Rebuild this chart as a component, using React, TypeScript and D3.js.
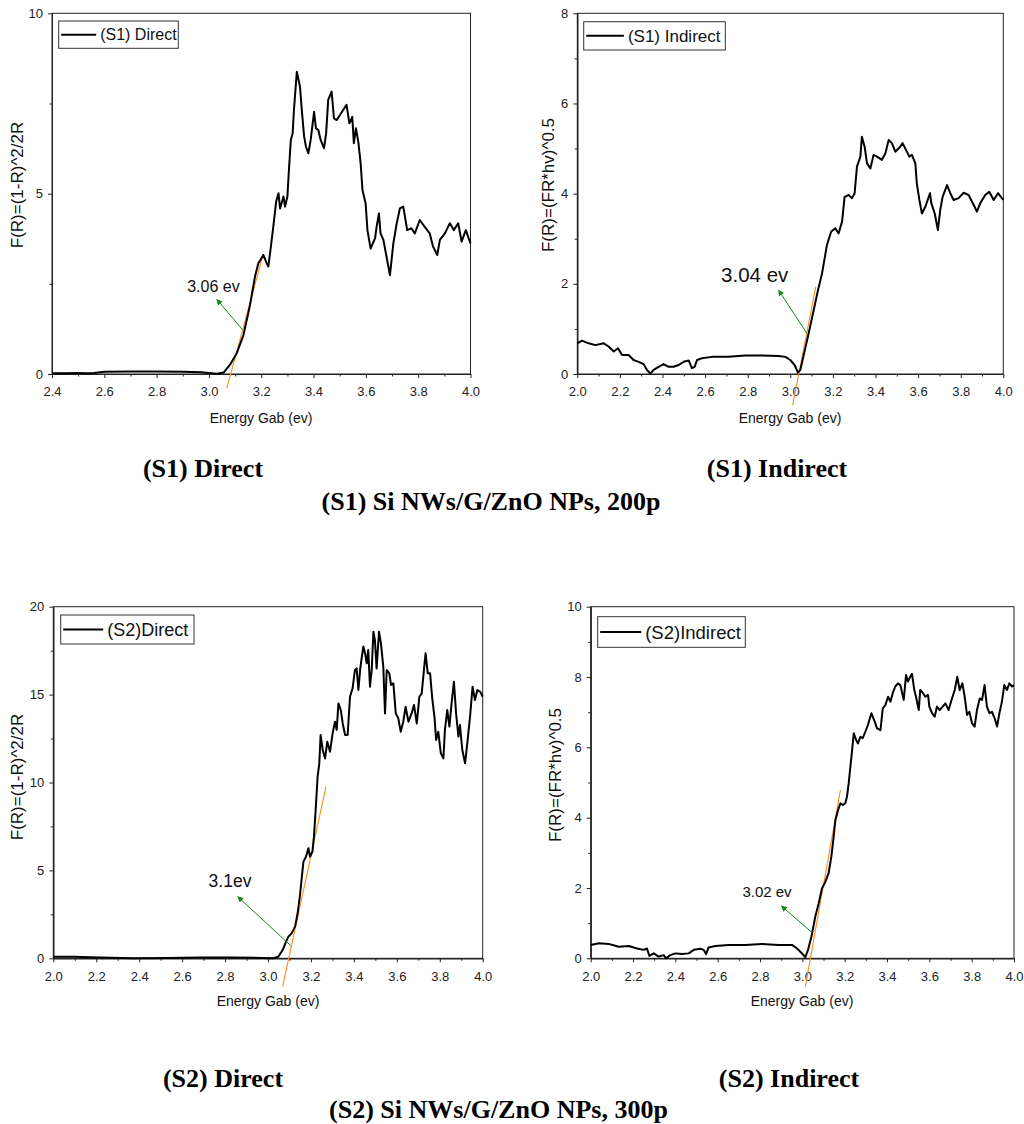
import React, { useEffect, useRef } from "react";
import * as d3 from "d3";

// ---------- DATA ----------
// (S1) Direct : [energy (eV), F(R)]
const s1Direct: [number, number][] = [
  [2.40, 0.02], [2.45, 0.02], [2.50, 0.03], [2.53, 0.02], [2.56, 0.03], [2.60, 0.06], [2.70, 0.07], [2.80, 0.07], [2.90, 0.06], [2.97, 0.05],
  [3.00, 0.03], [3.03, 0.01], [3.056, 0.04], [3.08, 0.25], [3.106, 0.57], [3.132, 1.08], [3.157, 1.91], [3.176, 2.70], [3.189, 3.07], [3.208, 3.30],
  [3.221, 3.07], [3.227, 2.98], [3.236, 3.48], [3.246, 4.08], [3.257, 4.78], [3.266, 5.01], [3.272, 4.59], [3.285, 4.92], [3.291, 4.64], [3.300, 4.92],
  [3.305, 5.56], [3.313, 6.49], [3.320, 6.67], [3.325, 7.32], [3.336, 8.38], [3.348, 7.97], [3.355, 7.32], [3.364, 6.58], [3.371, 6.30], [3.380, 6.12],
  [3.389, 6.49], [3.402, 7.27], [3.409, 6.81], [3.418, 6.77], [3.427, 6.49], [3.440, 6.26], [3.448, 6.67], [3.456, 7.60], [3.469, 7.83], [3.478, 7.09],
  [3.488, 7.04], [3.501, 7.18], [3.513, 7.32], [3.526, 7.46], [3.537, 6.95], [3.548, 7.13], [3.554, 6.40], [3.562, 6.81], [3.571, 6.44], [3.580, 5.84],
  [3.587, 5.10], [3.599, 4.73], [3.606, 3.99], [3.618, 3.48], [3.635, 3.76], [3.641, 4.08], [3.650, 4.45], [3.656, 3.90], [3.667, 3.72], [3.679, 3.25],
  [3.692, 2.74], [3.705, 3.62], [3.718, 4.18], [3.730, 4.59], [3.743, 4.64], [3.758, 3.99], [3.774, 4.04], [3.787, 3.90], [3.806, 4.27], [3.825, 4.08],
  [3.844, 3.90], [3.857, 3.53], [3.873, 3.30], [3.883, 3.72], [3.902, 3.90], [3.921, 4.18], [3.936, 3.99], [3.953, 4.18], [3.966, 3.67], [3.982, 3.99],
  [4.000, 3.62],
];

// (S1) Indirect
const s1Indirect: [number, number][] = [
  [2.000, 0.68], [2.022, 0.74], [2.053, 0.68], [2.085, 0.64], [2.124, 0.68], [2.147, 0.61], [2.171, 0.50], [2.191, 0.57], [2.210, 0.42], [2.241, 0.42],
  [2.264, 0.31], [2.288, 0.27], [2.311, 0.22], [2.327, 0.09], [2.343, 0.01], [2.358, 0.09], [2.382, 0.16], [2.405, 0.22], [2.429, 0.16], [2.452, 0.16],
  [2.476, 0.20], [2.499, 0.27], [2.523, 0.30], [2.538, 0.13], [2.551, 0.16], [2.562, 0.31], [2.585, 0.35], [2.632, 0.38], [2.710, 0.38], [2.789, 0.41],
  [2.867, 0.41], [2.945, 0.40], [2.977, 0.38], [3.000, 0.31], [3.020, 0.20], [3.036, 0.03], [3.047, 0.09], [3.063, 0.42], [3.086, 0.90], [3.110, 1.42],
  [3.130, 1.86], [3.149, 2.23], [3.172, 2.86], [3.192, 3.16], [3.211, 3.23], [3.227, 3.12], [3.243, 3.38], [3.255, 3.93], [3.274, 3.97], [3.290, 3.90],
  [3.302, 4.01], [3.313, 4.60], [3.329, 4.82], [3.336, 5.26], [3.349, 5.04], [3.360, 4.67], [3.376, 4.56], [3.391, 4.86], [3.407, 4.82], [3.430, 4.75],
  [3.446, 4.89], [3.462, 5.19], [3.477, 5.12], [3.493, 4.93], [3.516, 5.04], [3.527, 5.12], [3.543, 4.97], [3.559, 4.82], [3.571, 4.86], [3.587, 4.67],
  [3.594, 4.23], [3.606, 3.86], [3.618, 3.56], [3.634, 3.71], [3.656, 4.01], [3.662, 3.79], [3.678, 3.56], [3.693, 3.19], [3.704, 3.64], [3.715, 3.93],
  [3.736, 4.19], [3.751, 4.01], [3.767, 3.86], [3.790, 3.90], [3.814, 4.02], [3.837, 3.97], [3.861, 3.75], [3.876, 3.60], [3.892, 3.79], [3.915, 3.97],
  [3.934, 4.04], [3.955, 3.86], [3.975, 4.01], [4.000, 3.86],
];

// (S2) Direct
const s2Direct: [number, number][] = [
  [2.000, 0.09], [2.093, 0.09], [2.217, 0.04], [2.373, 0.00], [2.528, 0.02], [2.683, 0.04], [2.839, 0.04], [2.978, 0.02], [3.025, 0.00], [3.048, 0.09],
  [3.068, 0.47], [3.084, 0.95], [3.095, 1.23], [3.110, 1.42], [3.126, 1.80], [3.138, 2.56], [3.149, 3.60], [3.157, 4.55], [3.165, 5.50], [3.177, 5.78],
  [3.188, 6.26], [3.196, 5.78], [3.207, 6.07], [3.214, 6.92], [3.222, 8.44], [3.231, 10.33], [3.239, 11.09], [3.245, 12.70], [3.255, 11.85], [3.266, 11.37],
  [3.276, 12.32], [3.289, 11.75], [3.301, 12.80], [3.312, 13.46], [3.320, 12.99], [3.328, 14.50], [3.339, 14.12], [3.348, 13.36], [3.359, 12.70], [3.371, 12.70],
  [3.382, 14.88], [3.394, 15.36], [3.405, 16.40], [3.413, 16.49], [3.421, 15.26], [3.429, 16.40], [3.436, 17.06], [3.444, 17.73], [3.452, 17.35], [3.460, 16.78],
  [3.467, 17.54], [3.475, 15.45], [3.483, 16.40], [3.491, 18.58], [3.498, 18.10], [3.506, 16.49], [3.517, 18.58], [3.526, 17.91], [3.537, 16.59], [3.545, 13.93],
  [3.553, 16.40], [3.565, 16.21], [3.573, 15.55], [3.584, 15.64], [3.595, 13.93], [3.607, 13.65], [3.618, 12.89], [3.630, 13.46], [3.641, 14.31], [3.654, 13.46],
  [3.669, 13.93], [3.680, 14.41], [3.693, 13.36], [3.705, 14.88], [3.716, 15.07], [3.727, 16.49], [3.734, 17.35], [3.744, 16.21], [3.755, 16.21], [3.765, 14.79],
  [3.776, 13.65], [3.783, 12.42], [3.793, 12.89], [3.805, 11.66], [3.817, 11.37], [3.824, 12.99], [3.835, 14.12], [3.845, 13.18], [3.855, 14.50], [3.866, 15.73],
  [3.876, 13.93], [3.887, 12.61], [3.894, 13.27], [3.905, 11.85], [3.918, 11.09], [3.929, 12.32], [3.941, 13.74], [3.953, 15.45], [3.964, 14.69], [3.975, 15.26],
  [3.988, 15.17], [4.000, 14.88],
];

// (S2) Indirect
const s2Indirect: [number, number][] = [
  [2.000, 0.38], [2.038, 0.43], [2.085, 0.41], [2.132, 0.33], [2.180, 0.35], [2.219, 0.28], [2.250, 0.24], [2.266, 0.28], [2.277, 0.07], [2.298, 0.14],
  [2.321, 0.05], [2.345, 0.09], [2.356, 0.00], [2.376, 0.09], [2.400, 0.14], [2.431, 0.12], [2.463, 0.14], [2.487, 0.24], [2.518, 0.27], [2.534, 0.24],
  [2.545, 0.12], [2.557, 0.31], [2.589, 0.35], [2.652, 0.38], [2.731, 0.38], [2.809, 0.41], [2.888, 0.38], [2.951, 0.38], [2.975, 0.28], [2.995, 0.16],
  [3.014, 0.03], [3.027, 0.24], [3.043, 0.62], [3.061, 1.18], [3.077, 1.56], [3.093, 1.99], [3.109, 2.18], [3.124, 2.42], [3.137, 2.89], [3.148, 3.46],
  [3.156, 3.93], [3.169, 4.22], [3.180, 4.41], [3.191, 4.36], [3.203, 4.41], [3.211, 4.60], [3.219, 4.98], [3.227, 5.45], [3.235, 5.92], [3.243, 6.40],
  [3.254, 6.21], [3.263, 6.11], [3.274, 6.30], [3.285, 6.26], [3.298, 6.45], [3.310, 6.64], [3.326, 6.97], [3.342, 6.73], [3.353, 6.54], [3.369, 6.49],
  [3.380, 7.11], [3.392, 7.20], [3.405, 7.44], [3.416, 7.30], [3.427, 7.54], [3.439, 7.73], [3.452, 7.82], [3.463, 7.77], [3.479, 7.35], [3.490, 8.06],
  [3.499, 7.87], [3.510, 8.01], [3.518, 8.09], [3.529, 7.63], [3.537, 7.44], [3.550, 7.06], [3.557, 7.63], [3.570, 7.54], [3.581, 7.44], [3.594, 7.49],
  [3.600, 7.16], [3.613, 6.97], [3.625, 6.87], [3.636, 7.16], [3.649, 7.06], [3.663, 7.16], [3.676, 7.25], [3.691, 7.06], [3.707, 7.39], [3.720, 7.63],
  [3.732, 8.01], [3.743, 7.63], [3.756, 7.82], [3.767, 7.44], [3.778, 6.92], [3.789, 7.01], [3.802, 6.68], [3.814, 6.59], [3.825, 7.06], [3.838, 7.39],
  [3.849, 7.35], [3.861, 7.77], [3.872, 7.16], [3.884, 6.97], [3.896, 7.01], [3.909, 6.82], [3.920, 6.59], [3.931, 6.97], [3.943, 7.30], [3.954, 7.77],
  [3.967, 7.63], [3.978, 7.82], [3.991, 7.73], [4.000, 7.77],
];

// Tick values
const xTicksS1Direct = [2.4, 2.6, 2.8, 3.0, 3.2, 3.4, 3.6, 3.8, 4.0];
const xTicksWide = [2.0, 2.2, 2.4, 2.6, 2.8, 3.0, 3.2, 3.4, 3.6, 3.8, 4.0];
const yTicksS1Direct = [0, 5, 10];
const yTicksS1Indirect = [0, 2, 4, 6, 8];
const yTicksS2Direct = [0, 5, 10, 15, 20];
const yTicksS2Indirect = [0, 2, 4, 6, 8, 10];

// Tangent (orange) lines: [start, end] in data units
const tangentS1Direct: [number, number][] = [[3.068, -0.40], [3.208, 3.33]];
const tangentS1Indirect: [number, number][] = [[3.011, -0.69], [3.120, 1.94]];
const tangentS2Direct: [number, number][] = [[3.068, -1.61], [3.270, 9.76]];
const tangentS2Indirect: [number, number][] = [[3.014, -0.81], [3.180, 4.79]];

// Green arrows: [tail, head] in data units
const arrowS1Direct: [number, number][] = [[3.129, 1.22], [3.030, 2.07]];
const arrowS1Indirect: [number, number][] = [[3.078, 0.90], [2.945, 1.86]];
const arrowS2Direct: [number, number][] = [[3.106, 0.72], [2.859, 3.51]];
const arrowS2Indirect: [number, number][] = [[3.046, 0.73], [2.901, 1.49]];

// Band gap labels and their anchor (data units)
const gapLabels = ["3.06 ev", "3.04 ev", "3.1ev", "3.02 ev"];
const gapLabelAt: [number, number][] = [[3.017, 2.42], [2.833, 2.20], [2.823, 4.40], [2.833, 1.90]];

const legendLabels = ["(S1) Direct", "(S1) Indirect", "(S2)Direct", "(S2)Indirect"];
const yTitles = ["F(R)=(1-R)^2/2R", "F(R)=(FR*hv)^0.5", "F(R)=(1-R)^2/2R", "F(R)=(FR*hv)^0.5"];
const xTitle = "Energy Gab (ev)";
const captions = ["(S1) Direct", "(S1) Indirect", "(S2) Direct", "(S2) Indirect"];
const groupTitles = ["(S1) Si NWs/G/ZnO NPs, 200p", "(S2) Si NWs/G/ZnO NPs, 300p"];

// ---------- LAYOUT ----------
const panels = [
  {
    data: s1Direct, xDomain: [2.4, 4.0], yDomain: [0, 10], xTicks: xTicksS1Direct, yTicks: yTicksS1Direct,
    tangent: tangentS1Direct, arrow: arrowS1Direct, gi: 0,
    left: 52, right: 470.5, top: 13.3, bottom: 374,
    legend: { dx: 6.7, dy: 7.7, w: 119.6, h: 27.3, line: 35, fs: 16 }, gapFs: 16,
    yTitleX: 17, yTitleY: 185, xTitleX: 261, xTitleY: 423,
  },
  {
    data: s1Indirect, xDomain: [2.0, 4.0], yDomain: [0, 8], xTicks: xTicksWide, yTicks: yTicksS1Indirect,
    tangent: tangentS1Indirect, arrow: arrowS1Indirect, gi: 1,
    left: 577.3, right: 1003.3, top: 13.3, bottom: 374,
    legend: { dx: 6.4, dy: 8.4, w: 141.6, h: 28.3, line: 37.7, fs: 17 }, gapFs: 20.5,
    yTitleX: 548, yTitleY: 185, xTitleX: 790, xTitleY: 423,
  },
  {
    data: s2Direct, xDomain: [2.0, 4.0], yDomain: [0, 20], xTicks: xTicksWide, yTicks: yTicksS2Direct,
    tangent: tangentS2Direct, arrow: arrowS2Direct, gi: 2,
    left: 53.3, right: 482.7, top: 606.7, bottom: 958.3,
    legend: { dx: 7.4, dy: 8.3, w: 133.3, h: 29, line: 40, fs: 18 }, gapFs: 17.5,
    yTitleX: 17, yTitleY: 777, xTitleX: 268, xTitleY: 1006,
  },
  {
    data: s2Indirect, xDomain: [2.0, 4.0], yDomain: [0, 10], xTicks: xTicksWide, yTicks: yTicksS2Indirect,
    tangent: tangentS2Indirect, arrow: arrowS2Indirect, gi: 3,
    left: 590.7, right: 1014, top: 606.7, bottom: 958.3,
    legend: { dx: 7, dy: 10, w: 147.6, h: 30.6, line: 41, fs: 18.5 }, gapFs: 15,
    yTitleX: 555, yTitleY: 775, xTitleX: 802, xTitleY: 1006,
  },
];

const captionPos = [
  { x: 203, y: 477 }, { x: 777, y: 477 }, { x: 223, y: 1087 }, { x: 789, y: 1087 },
];
const groupTitlePos = [{ x: 491, y: 510 }, { x: 498.5, y: 1118 }];

const SANS = "'Liberation Sans', Arial, Helvetica, sans-serif";
const SERIF = "'Liberation Serif', 'Times New Roman', Times, serif";
const AXIS = "#222";

function minorOf(ticks: number[]): number[] {
  return d3.pairs(ticks).map(([a, b]) => (a + b) / 2);
}

export default function App() {
  const ref = useRef<SVGSVGElement | null>(null);

  useEffect(() => {
    const svg = d3.select(ref.current);
    svg.selectAll("*").remove();

    const defs = svg.append("defs");
    defs
      .append("marker")
      .attr("id", "greenHead")
      .attr("viewBox", "0 0 10 10")
      .attr("refX", 9)
      .attr("refY", 5)
      .attr("markerUnits", "userSpaceOnUse")
      .attr("markerWidth", 7)
      .attr("markerHeight", 6)
      .attr("orient", "auto")
      .append("path")
      .attr("d", "M0,0 L10,5 L0,10 z")
      .attr("fill", "#138a13");

    panels.forEach((p) => {
      const x = d3.scaleLinear().domain(p.xDomain).range([p.left, p.right]);
      const y = d3.scaleLinear().domain(p.yDomain).range([p.bottom, p.top]);
      const g = svg.append("g");

      // frame
      g.append("rect")
        .attr("x", p.left).attr("y", p.top)
        .attr("width", p.right - p.left).attr("height", p.bottom - p.top)
        .attr("fill", "none").attr("stroke", AXIS).attr("stroke-width", 1);

      // x axis (major)
      const gx = g.append("g").attr("transform", `translate(0,${p.bottom})`)
        .call(d3.axisBottom(x).tickValues(p.xTicks).tickFormat(d3.format(".1f")).tickSize(4).tickPadding(9).tickSizeOuter(0));
      // x axis (minor)
      const gxm = g.append("g").attr("transform", `translate(0,${p.bottom})`)
        .call(d3.axisBottom(x).tickValues(minorOf(p.xTicks)).tickFormat(() => "").tickSize(2.5).tickSizeOuter(0));
      // y axis (major)
      const gy = g.append("g").attr("transform", `translate(${p.left},0)`)
        .call(d3.axisLeft(y).tickValues(p.yTicks).tickFormat(d3.format("d")).tickSize(4).tickPadding(5).tickSizeOuter(0));
      // y axis (minor)
      const gym = g.append("g").attr("transform", `translate(${p.left},0)`)
        .call(d3.axisLeft(y).tickValues(minorOf(p.yTicks)).tickFormat(() => "").tickSize(2.5).tickSizeOuter(0));

      [gx, gxm, gy, gym].forEach((a) => {
        a.selectAll("path.domain").attr("stroke", AXIS).attr("stroke-width", 1);
        a.selectAll(".tick line").attr("stroke", AXIS).attr("stroke-width", 1);
        a.selectAll(".tick text")
          .attr("fill", "#222")
          .attr("font-family", SANS)
          .attr("font-size", 13);
      });

      // tangent line (orange)
      g.append("line")
        .attr("x1", x(p.tangent[0][0])).attr("y1", y(p.tangent[0][1]))
        .attr("x2", x(p.tangent[1][0])).attr("y2", y(p.tangent[1][1]))
        .attr("stroke", "#ff8c1a").attr("stroke-width", 1.1);

      // curve
      const line = d3.line<[number, number]>().x((d) => x(d[0])).y((d) => y(d[1]));
      g.append("path")
        .datum(p.data)
        .attr("d", line)
        .attr("fill", "none")
        .attr("stroke", "#000")
        .attr("stroke-width", 2)
        .attr("stroke-linejoin", "round");

      // green arrow
      g.append("line")
        .attr("x1", x(p.arrow[0][0])).attr("y1", y(p.arrow[0][1]))
        .attr("x2", x(p.arrow[1][0])).attr("y2", y(p.arrow[1][1]))
        .attr("stroke", "#138a13").attr("stroke-width", 1)
        .attr("marker-end", "url(#greenHead)");

      // gap label
      g.append("text")
        .attr("x", x(gapLabelAt[p.gi][0])).attr("y", y(gapLabelAt[p.gi][1]))
        .attr("dy", "0.35em")
        .attr("text-anchor", "middle")
        .attr("font-family", SANS).attr("font-size", p.gapFs).attr("fill", "#111")
        .text(gapLabels[p.gi]);

      // legend
      const lx = p.left + p.legend.dx;
      const ly = p.top + p.legend.dy;
      g.append("rect")
        .attr("x", lx).attr("y", ly).attr("width", p.legend.w).attr("height", p.legend.h)
        .attr("fill", "#fff").attr("stroke", "#333").attr("stroke-width", 1);
      g.append("line")
        .attr("x1", lx + 2.5).attr("x2", lx + 2.5 + p.legend.line)
        .attr("y1", ly + p.legend.h / 2).attr("y2", ly + p.legend.h / 2)
        .attr("stroke", "#000").attr("stroke-width", 2);
      g.append("text")
        .attr("x", lx + 2.5 + p.legend.line + 4)
        .attr("y", ly + p.legend.h / 2)
        .attr("dy", "0.36em")
        .attr("font-family", SANS).attr("font-size", p.legend.fs).attr("fill", "#111")
        .text(legendLabels[p.gi]);

      // y title
      g.append("text")
        .attr("transform", `translate(${p.yTitleX},${p.yTitleY}) rotate(-90)`)
        .attr("dy", "0.35em")
        .attr("text-anchor", "middle")
        .attr("font-family", SANS).attr("font-size", 17).attr("fill", "#111")
        .text(yTitles[p.gi]);

      // x title
      g.append("text")
        .attr("x", p.xTitleX).attr("y", p.xTitleY)
        .attr("text-anchor", "middle")
        .attr("font-family", SANS).attr("font-size", 14).attr("fill", "#111")
        .text(xTitle);
    });

    // captions
    captions.forEach((c, i) => {
      svg.append("text")
        .attr("x", captionPos[i].x).attr("y", captionPos[i].y)
        .attr("text-anchor", "middle")
        .attr("font-family", SERIF).attr("font-weight", "bold").attr("font-size", 26).attr("fill", "#000")
        .text(c);
    });
    groupTitles.forEach((t, i) => {
      svg.append("text")
        .attr("x", groupTitlePos[i].x).attr("y", groupTitlePos[i].y)
        .attr("text-anchor", "middle")
        .attr("font-family", SERIF).attr("font-weight", "bold").attr("font-size", 26).attr("fill", "#000")
        .text(t);
    });
  }, []);

  return (
    <svg
      ref={ref}
      width={1024}
      height={1124}
      style={{ position: "absolute", left: 0, top: 0, background: "#fff" }}
    />
  );
}
